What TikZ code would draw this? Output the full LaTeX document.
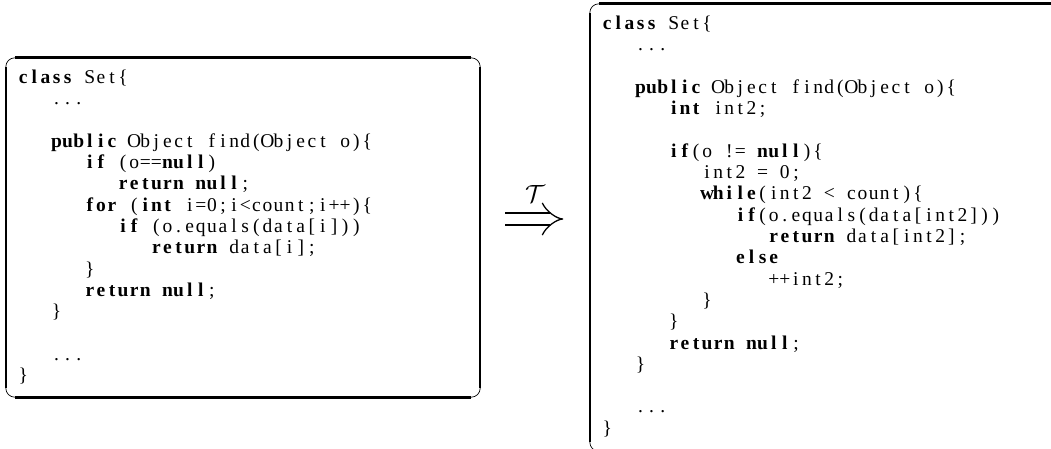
\documentclass[tikz,border=0pt]{standalone}
\usepackage{fontspec}
\setmainfont{Liberation Serif}
\usetikzlibrary{arrows.meta}

% One code line set in fixed columns: every character sits centred in a
% column of equal width; "|" switches bold on/off, ` and ' stand for { and }.
\ExplSyntaxOn
\dim_const:Nn \c__cl_wd_dim { 11.1pt }
\bool_new:N \l__cl_bold_bool
\cs_new:Npn \__cl_char:n #1
  {
    \str_case:nnF { #1 }
      {
        { ` } { \{ }
        { ' } { \} }
      }
      { #1 }
  }
\NewDocumentCommand \codeline { O{0} m }
  {
    \bool_set_false:N \l__cl_bold_bool
    \skip_horizontal:n { \c__cl_wd_dim * #1 }
    \str_map_inline:nn { #2 }
      {
        \str_if_eq:nnTF { ##1 } { | }
          { \bool_set_inverse:N \l__cl_bold_bool }
          {
            \hbox_to_wd:nn { \c__cl_wd_dim }
              { \hss \bool_if:NT \l__cl_bold_bool { \bfseries } \__cl_char:n { ##1 } \hss }
          }
      }
  }
\ExplSyntaxOff

\tikzset{
  code/.style={anchor=base west, inner sep=0pt, font=\fontsize{19.5}{21.3}\selectfont},
  codebox/.style={rectangle, draw=none, inner sep=0pt, minimum width=474pt},
  rim/.style={line width=0.7pt, rounded corners=9pt},
  sidev/.style={line width=2.1pt},
  sideh/.style={line width=2.6pt},
  maps/.style={double, double distance=10.6pt, line width=1.3pt, -{Implies},
               shorten <=25pt, shorten >=26.5pt},
  mapslabel/.style={above=16pt, inner sep=0pt, font=\fontsize{30}{30}\selectfont},
}

% Frame with thick straight sides and thin rounded corners
\newcommand\codeframe[1]{%
  \draw[rim] ([yshift=-9pt]#1.north west) |- ([xshift=9pt]#1.north west);
  \draw[rim] ([xshift=-9pt]#1.north east) -| ([yshift=-9pt]#1.north east);
  \draw[rim] ([yshift=9pt]#1.south east) |- ([xshift=-9pt]#1.south east);
  \draw[rim] ([xshift=9pt]#1.south west) -| ([yshift=9pt]#1.south west);
  \draw[sideh] ([xshift=9pt]#1.north west) -- ([xshift=-9pt]#1.north east);
  \draw[sideh] ([xshift=9pt]#1.south west) -- ([xshift=-9pt]#1.south east);
  \draw[sidev] ([yshift=-9pt]#1.north west) -- ([yshift=9pt]#1.south west);
  \draw[sidev] ([yshift=-9pt]#1.north east) -- ([yshift=9pt]#1.south east);
}

\begin{document}
\begin{tikzpicture}[x=1pt, y=-1pt]
\useasboundingbox (0,0) rectangle (1051,449);
\clip (0,0) rectangle (1051,449);

% original method
\node[codebox, minimum height=339pt] (lbox) at (243,227.5) {};
\codeframe{lbox}
\node[code] (l0)  at (17.5,83.3)  {\codeline{|class| Set`}};
\node[code] (l1)  at (17.5,104.6) {\codeline[3]{...}};
\node[code] (l3)  at (17.5,147.2) {\codeline[3]{|public| Object find(Object o)`}};
\node[code] (l4)  at (17.5,168.5) {\codeline[6]{|if| (o==|null|)}};
\node[code] (l5)  at (17.5,189.8) {\codeline[9]{|return null|;}};
\node[code] (l6)  at (17.5,211.1) {\codeline[6]{|for| (|int| i=0;i<count;i++)`}};
\node[code] (l7)  at (17.5,232.4) {\codeline[9]{|if| (o.equals(data[i]))}};
\node[code] (l8)  at (17.5,253.7) {\codeline[12]{|return| data[i];}};
\node[code] (l9)  at (17.5,275.0) {\codeline[6]{'}};
\node[code] (l10) at (17.5,296.3) {\codeline[6]{|return null|;}};
\node[code] (l11) at (17.5,317.6) {\codeline[3]{'}};
\node[code] (l13) at (17.5,360.2) {\codeline[3]{...}};
\node[code] (l14) at (17.5,381.5) {\codeline{'}};

% transformed method
\node[codebox, minimum height=447pt] (rbox) at (827,227.5) {};
\codeframe{rbox}
\node[code] (r0)  at (601.5,29.5)  {\codeline{|class| Set`}};
\node[code] (r1)  at (601.5,50.8)  {\codeline[3]{...}};
\node[code] (r3)  at (601.5,93.4)  {\codeline[3]{|public| Object find(Object o)`}};
\node[code] (r4)  at (601.5,114.7) {\codeline[6]{|int| int2;}};
\node[code] (r6)  at (601.5,157.3) {\codeline[6]{|if|(o != |null|)`}};
\node[code] (r7)  at (601.5,178.6) {\codeline[9]{int2 = 0;}};
\node[code] (r8)  at (601.5,199.9) {\codeline[9]{|while|(int2 < count)`}};
\node[code] (r9)  at (601.5,221.2) {\codeline[12]{|if|(o.equals(data[int2]))}};
\node[code] (r10) at (601.5,242.5) {\codeline[15]{|return| data[int2];}};
\node[code] (r11) at (601.5,263.8) {\codeline[12]{|else|}};
\node[code] (r12) at (601.5,285.1) {\codeline[15]{++int2;}};
\node[code] (r13) at (601.5,306.4) {\codeline[9]{'}};
\node[code] (r14) at (601.5,327.7) {\codeline[6]{'}};
\node[code] (r15) at (601.5,349.0) {\codeline[6]{|return null|;}};
\node[code] (r16) at (601.5,370.3) {\codeline[3]{'}};
\node[code] (r18) at (601.5,412.9) {\codeline[3]{...}};
\node[code] (r19) at (601.5,434.2) {\codeline{'}};

% transformation arrow
\draw[maps] ([yshift=8.5pt]lbox.east) -- node[mapslabel] (tlab) {$\mathcal{T}$} ([yshift=8.5pt]rbox.west);
\end{tikzpicture}
\end{document}
